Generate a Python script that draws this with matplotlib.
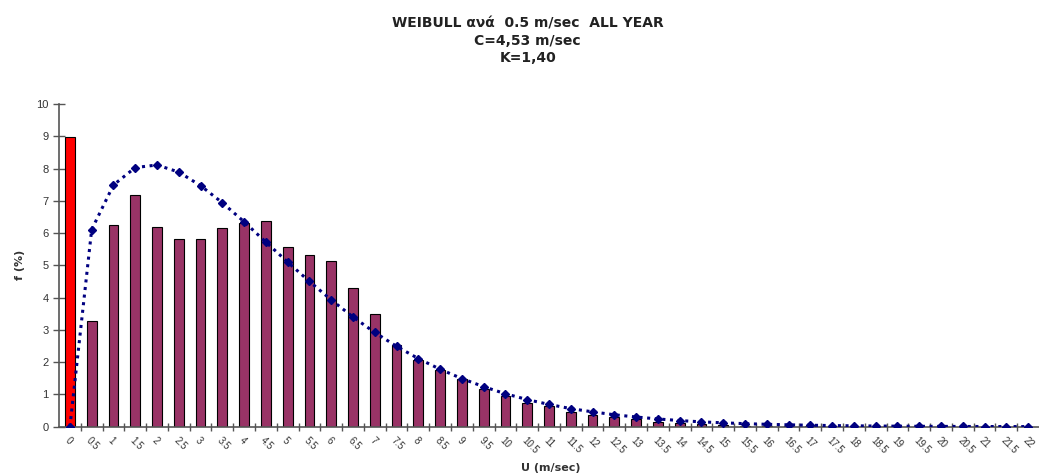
import matplotlib.pyplot as plt
import numpy as np

plt.rcParams['font.family'] = ['Liberation Sans', 'DejaVu Sans']

# wind speed classes (m/sec)
labels = ['0', '0.5', '1', '1.5', '2', '2.5', '3', '3.5', '4', '4.5', '5', '5.5',
          '6', '6.5', '7', '7.5', '8', '8.5', '9', '9.5', '10', '10.5', '11', '11.5',
          '12', '12.5', '13', '13.5', '14', '14.5', '15', '15.5', '16', '16.5', '17',
          '17.5', '18', '18.5', '19', '19.5', '20', '20.5', '21', '21.5', '22']

# measured frequency (%)
measured = [8.97, 3.28, 6.26, 7.17, 6.20, 5.83, 5.83, 6.17, 6.30, 6.36, 5.57, 5.31,
            5.12, 4.30, 3.48, 2.53, 2.07, 1.75, 1.49, 1.16, 0.94, 0.73, 0.63, 0.46,
            0.36, 0.29, 0.24, 0.16, 0.12, 0.08, 0.05, 0.03, 0.02, 0.01, 0.01,
            0, 0, 0, 0, 0, 0, 0, 0, 0, 0]

# Weibull fit (%)
weibull = [0.0, 6.11, 7.49, 8.03, 8.11, 7.89, 7.47, 6.94, 6.35, 5.72, 5.10, 4.50,
           3.93, 3.40, 2.92, 2.49, 2.11, 1.78, 1.49, 1.24, 1.02, 0.84, 0.69, 0.56,
           0.46, 0.37, 0.30, 0.24, 0.19, 0.15, 0.12, 0.094, 0.074, 0.058, 0.045,
           0.035, 0.027, 0.021, 0.016, 0.012, 0.0095, 0.0073, 0.0056, 0.0042, 0.0032]

x = np.arange(len(labels))
bar_colors = ['#FF0000'] + ['#993366'] * (len(labels) - 1)

fig = plt.figure(figsize=(10.39, 4.74), dpi=100)
ax = fig.add_axes([0.0568, 0.0998, 0.9432, 0.6808])

ax.bar(x, measured, width=0.45, color=bar_colors, edgecolor='black', linewidth=0.8, zorder=2)
ax.plot(x, weibull, color='#000080', linestyle=(0, (1, 1.5)), linewidth=2.2,
        marker='D', markersize=4.5, markerfacecolor='#000080', markeredgecolor='#000080', zorder=3)

ax.set_xlim(-0.5, len(labels) - 0.5)
ax.set_ylim(0, 10)
ax.set_yticks(range(0, 11))
ax.set_xticks(x)
ax.set_xticks(x[:-1] + 0.5, minor=True)
ax.set_xticklabels(labels, rotation=-45, ha='left', rotation_mode='anchor', fontsize=7, color='#333333')
ax.tick_params(axis='x', which='major', length=0, pad=6)
ax.tick_params(axis='x', which='minor', direction='inout', length=6, width=1, color='#555555')
ax.tick_params(axis='y', direction='inout', length=8, width=1, color='#555555', labelsize=8, labelcolor='#333333')

for s in ['top', 'right']:
    ax.spines[s].set_visible(False)
for s in ['left', 'bottom']:
    ax.spines[s].set_color('#555555')
    ax.spines[s].set_linewidth(1.2)

ax.set_ylabel('f (%)', fontsize=8, fontweight='bold', color='#333333', family='DejaVu Sans')
ax.yaxis.set_label_coords(-0.035, 0.5)
ax.set_xlabel('U (m/sec)', fontsize=8, fontweight='bold', color='#333333', family='DejaVu Sans')
ax.xaxis.set_label_coords(0.502, -0.112)

fig.text(0.508, 0.965, 'WEIBULL ανά  0.5 m/sec  ALL YEAR\nC=4,53 m/sec\nK=1,40',
         ha='center', va='top', fontsize=10, fontweight='bold', color='#222222',
         linespacing=1.3, family='DejaVu Sans')

fig.savefig('out.png', dpi=100)
